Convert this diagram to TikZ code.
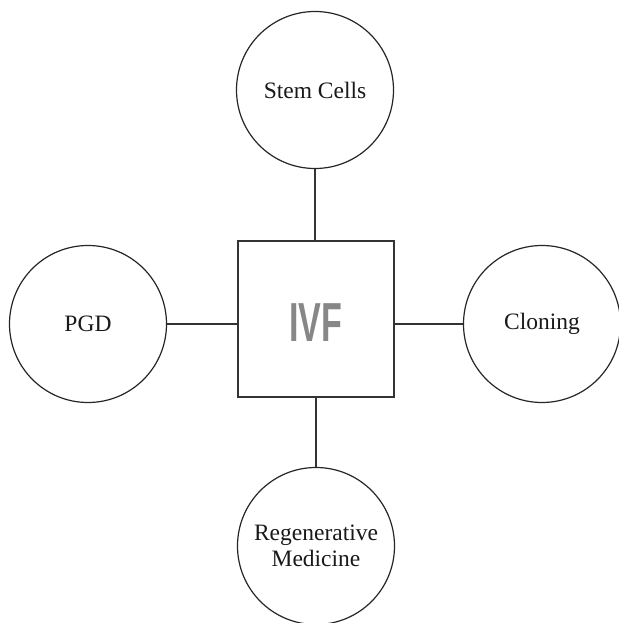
\documentclass[tikz,border=0pt]{standalone}
\usepackage{fontspec}
\setmainfont{Liberation Serif}
\newfontfamily\ivffont{Liberation Sans}
\begin{document}
\begin{tikzpicture}[x=1pt,y=-1pt,
  topic/.style={circle,draw=black!85,line width=1.2pt,minimum size=157pt,inner sep=0pt,align=center,
    font=\fontsize{23.5}{26}\selectfont,text=black!90},
  hub/.style={rectangle,draw=black!80,line width=1.3pt,minimum size=156pt,inner sep=0pt},
  link/.style={draw=black!80,line width=1.2pt}]
\useasboundingbox (0,0) rectangle (618,623);
\node[hub] (ivf) at (316,319) {};
\node[text=black!47,inner sep=0pt] (ivflabel) at (316,323) {\scalebox{0.62}[1]{\ivffont\bfseries\fontsize{55}{55}\selectfont IVF}};
\node[topic] (stem) at (315,90) {Stem Cells};
\node[topic] (pgd) at (88,324) {PGD};
\node[topic] (clone) at (542,324) {Cloning};
\node[topic] (regen) at (316,546) {Regenerative\\Medicine};
\draw[link] (stem) -- (stem |- ivf.north);
\draw[link] (regen) -- (regen |- ivf.south);
\draw[link] (pgd) -- (pgd -| ivf.west);
\draw[link] (clone) -- (clone -| ivf.east);
\end{tikzpicture}
\end{document}
